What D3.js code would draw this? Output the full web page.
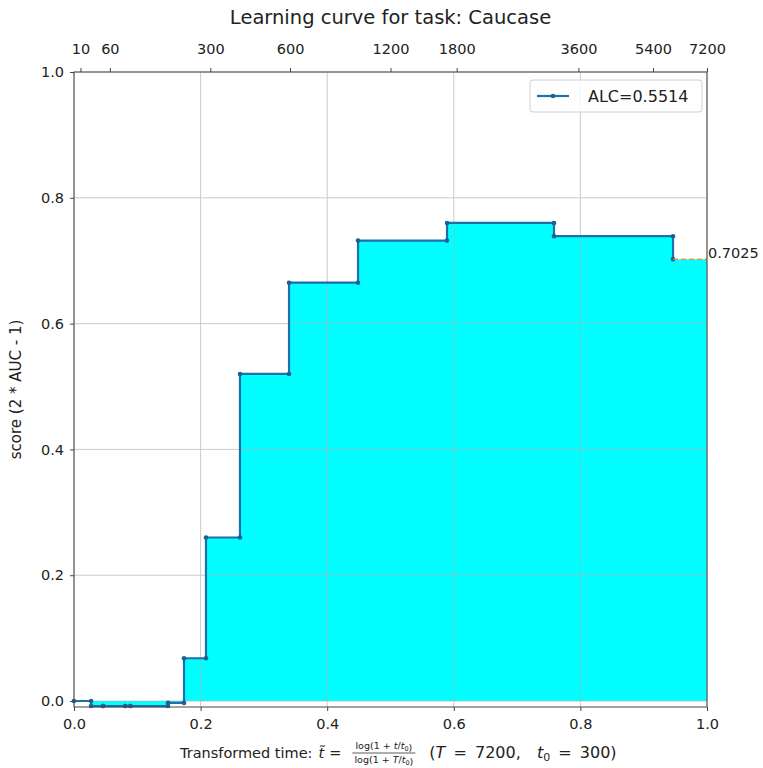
<!DOCTYPE html>
<html>
<head>
<meta charset="utf-8">
<script src="https://cdn.jsdelivr.net/npm/d3@7"></script>
<style>
  body { margin: 0; background: #fff; }
  text { font-family: "DejaVu Sans", sans-serif; fill: #222; }
</style>
</head>
<body>
<svg id="chart" width="763" height="768"></svg>
<script>
// Learning curve (AutoDL style): score vs transformed time
const taskName = "Caucase";
const totalTime = 7200;   // T
const t0 = 300;           // t0
const alcValue = 0.5514;

// Transformed timestamps of each prediction and the score obtained
const transformedTimes = [0, 0.027, 0.046, 0.081, 0.089, 0.1485, 0.1738, 0.2085, 0.2622, 0.3397, 0.4487, 0.5893, 0.7583, 0.9463];
const scores           = [0, -0.008, -0.008, -0.008, -0.008, -0.003, 0.068, 0.26, 0.52, 0.665, 0.732, 0.760, 0.739, 0.7025];

const xTickValues = [0, 0.2, 0.4, 0.6, 0.8, 1.0];
const yTickValues = [0, 0.2, 0.4, 0.6, 0.8, 1.0];
const topTickSeconds = [10, 60, 300, 600, 1200, 1800, 3600, 5400, 7200];

const transformTime = t => Math.log(1 + t / t0) / Math.log(1 + totalTime / t0);

const FS = 14.5;  // base font size

const svg = d3.select("#chart");
const m = { left: 74, right: 707, top: 72, bottom: 707 };

const x = d3.scaleLinear().domain([0, 1]).range([m.left, m.right]);
const y = d3.scaleLinear().domain([-0.0095, 1]).range([m.bottom, m.top]);

const pts = transformedTimes.map((t, i) => [t, scores[i]]);
const last = pts[pts.length - 1];

// filled area under the step curve, up to t~ = 1
const areaPts = pts.concat([[1, last[1]]]);
svg.append("path")
  .datum(areaPts)
  .attr("d", d3.area().curve(d3.curveStepAfter)
    .x(d => x(d[0])).y0(y(0)).y1(d => y(d[1])))
  .attr("fill", "#00ffff");

// grid
const grid = svg.append("g").attr("stroke", "#b0b0b0").attr("stroke-width", 1).attr("opacity", 0.65);
xTickValues.forEach(v => grid.append("line")
  .attr("x1", x(v)).attr("x2", x(v)).attr("y1", m.top).attr("y2", m.bottom));
yTickValues.forEach(v => grid.append("line")
  .attr("x1", m.left).attr("x2", m.right).attr("y1", y(v)).attr("y2", y(v)));

// step line
svg.append("path")
  .datum(pts)
  .attr("d", d3.line().curve(d3.curveStepAfter).x(d => x(d[0])).y(d => y(d[1])))
  .attr("fill", "none").attr("stroke", "#1f6fab").attr("stroke-width", 2.2);

// markers at both corners of each step
const markerPts = [pts[0]];
for (let i = 1; i < pts.length; i++) {
  markerPts.push([pts[i][0], pts[i - 1][1]]);
  markerPts.push(pts[i]);
}
svg.append("g").selectAll("circle").data(markerPts).join("circle")
  .attr("cx", d => x(d[0])).attr("cy", d => y(d[1])).attr("r", 2.3)
  .attr("fill", "#1f5f95");

// dashed segment for the last prediction
svg.append("line")
  .attr("x1", x(last[0])).attr("x2", x(1))
  .attr("y1", y(last[1])).attr("y2", y(last[1]))
  .attr("stroke", "#ff7f0e").attr("stroke-width", 1.5).attr("stroke-dasharray", "5,3")
  .attr("opacity", 0.8);

svg.append("text")
  .attr("x", x(1) + 1).attr("y", y(last[1]) - 1)
  .attr("font-size", FS).text(last[1].toFixed(4));

// frame
svg.append("rect")
  .attr("x", m.left).attr("y", m.top)
  .attr("width", m.right - m.left).attr("height", m.bottom - m.top)
  .attr("fill", "none").attr("stroke", "#444").attr("stroke-width", 1);

// axes
function styleAxis(g) {
  g.select(".domain").remove();
  g.selectAll(".tick line").attr("stroke", "#444");
  g.selectAll(".tick text").attr("font-size", FS).attr("fill", "#222")
    .attr("font-family", "DejaVu Sans, sans-serif");
}
svg.append("g").attr("transform", `translate(0,${m.bottom})`)
  .call(d3.axisBottom(x).tickValues(xTickValues).tickFormat(d3.format(".1f")).tickSize(4).tickPadding(8))
  .call(styleAxis);
svg.append("g").attr("transform", `translate(${m.left},0)`)
  .call(d3.axisLeft(y).tickValues(yTickValues).tickFormat(d3.format(".1f")).tickSize(4).tickPadding(6))
  .call(styleAxis);
svg.append("g").attr("transform", `translate(0,${m.top})`)
  .call(d3.axisTop(x).tickValues(topTickSeconds.map(transformTime))
    .tickFormat((d, i) => topTickSeconds[i]).tickSize(4).tickPadding(14))
  .call(styleAxis);

// title
svg.append("text").attr("x", (m.left + m.right) / 2).attr("y", 24)
  .attr("text-anchor", "middle").attr("font-size", 19.5)
  .text("Learning curve for task: " + taskName);

// y label
svg.append("text")
  .attr("transform", `translate(21,${(m.top + m.bottom) / 2}) rotate(-90)`)
  .attr("text-anchor", "middle").attr("font-size", FS + 0.5)
  .text("score (2 * AUC - 1)");

// legend
const lg = svg.append("g");
lg.append("rect").attr("x", 530).attr("y", 80).attr("width", 172).attr("height", 32)
  .attr("rx", 3).attr("fill", "#fff").attr("fill-opacity", 0.8)
  .attr("stroke", "#d0d0d0");
lg.append("line").attr("x1", 537).attr("x2", 569).attr("y1", 96).attr("y2", 96)
  .attr("stroke", "#1f6fab").attr("stroke-width", 2.2);
lg.append("circle").attr("cx", 553).attr("cy", 96).attr("r", 2.3).attr("fill", "#1f5f95");
lg.append("text").attr("x", 588).attr("y", 102).attr("font-size", 16)
  .text("ALC=" + alcValue.toFixed(4));

// x label with stacked fraction, laid out left to right
const xl = svg.append("g");
const bY = 758;
let cx = 0;
function seg(html, opts = {}) {
  const t = xl.append("text").attr("x", cx).attr("y", bY)
    .attr("font-size", opts.fs || FS).html(html);
  if (opts.italic) t.attr("font-style", "italic");
  if (opts.ws) t.attr("word-spacing", opts.ws);
  cx += t.node().getComputedTextLength() + (opts.gap || 0);
  return t;
}
seg("Transformed time:", { gap: 6 });
seg("t\u0303", { italic: true, gap: 5 });
seg("=", { gap: 11 });
const fx = cx, fw = 63, ffs = 9.5;
xl.append("text").attr("x", fx + fw / 2).attr("y", bY - 9).attr("font-size", ffs).attr("text-anchor", "middle")
  .html('log(1 + <tspan font-style="italic">t</tspan>/<tspan font-style="italic">t</tspan><tspan font-size="6.5" dy="2">0</tspan>)');
xl.append("line").attr("x1", fx).attr("x2", fx + fw).attr("y1", bY - 5).attr("y2", bY - 5)
  .attr("stroke", "#333").attr("stroke-width", 0.8);
xl.append("text").attr("x", fx + fw / 2).attr("y", bY + 5).attr("font-size", ffs).attr("text-anchor", "middle")
  .html('log(1 + <tspan font-style="italic">T</tspan>/<tspan font-style="italic">t</tspan><tspan font-size="6.5" dy="2">0</tspan>)');
cx += fw + 14;
seg('(<tspan font-style="italic">T</tspan> = 7200,&#160; <tspan font-style="italic">t</tspan><tspan font-size="11" dy="3">0</tspan><tspan dy="-3"> = 300)</tspan>', { fs: 16, ws: 3 });
xl.attr("transform", `translate(${180},0)`);
</script>
</body>
</html>
